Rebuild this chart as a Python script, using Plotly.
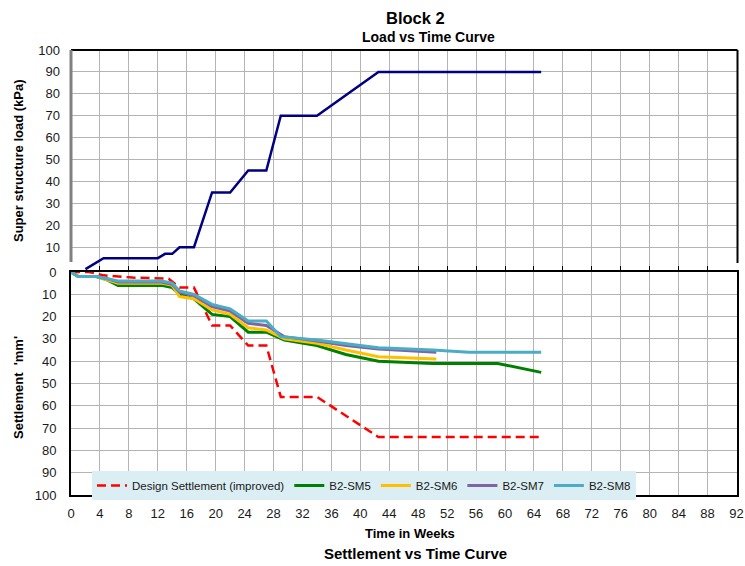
import plotly.graph_objects as go

# ---------------- data ----------------
load_weeks = [2, 4.5, 12, 13, 14, 15, 17, 19.5, 22, 24.5, 27, 29, 34, 42.5, 65]
load_kpa = [0, 5, 5, 7, 7, 10, 10, 35, 35, 45, 45, 70, 70, 90, 90]

design_weeks = [0, 2.5, 4.5, 8.5, 13.5, 15, 17, 19.5, 22, 24.5, 27, 29, 34, 42.5, 65]
design_sett = [0, 0, 1.5, 2.5, 3, 7, 7, 24, 24, 33, 33, 56, 56, 74, 74]

sm5_weeks = [0, 1, 3.5, 5, 6.5, 12.5, 14, 15, 17, 19.5, 22, 24.5, 27, 29.5, 34, 38, 42.5, 50, 59, 65]
sm5_sett = [0, 2, 2, 3.5, 6, 6, 7, 10, 12, 19, 20, 27, 27, 30.5, 33, 37, 40, 41, 41, 45]

sm6_weeks = [0, 1, 3.5, 5, 6.5, 12.5, 14, 15, 17, 19.5, 22, 24.5, 27, 29.5, 34, 38, 42.5, 50.5]
sm6_sett = [0, 2, 2, 3.5, 5, 5, 6, 11, 12, 17, 19, 25, 26, 30, 32, 35, 38, 39]

sm7_weeks = [0, 1, 3.5, 5, 6.5, 12.5, 14, 15, 17, 19.5, 22, 24.5, 27, 29.5, 34, 38, 42.5, 50.5]
sm7_sett = [0, 2, 2, 3, 4.5, 4.5, 5.5, 9, 10.5, 15.5, 17.5, 23, 24, 29, 31, 33, 34.5, 36]

sm8_weeks = [0, 1, 3.5, 5, 6.5, 12.5, 14, 15, 17, 19.5, 22, 24.5, 27, 29, 34, 40, 42.5, 50, 55, 65]
sm8_sett = [0, 2, 2, 3, 4, 4, 5, 8.5, 10, 14.5, 16.5, 22, 22, 29, 30.5, 33, 34, 35, 36, 36]

x_ticks = list(range(0, 93, 4))
load_ticks = list(range(10, 101, 10))
sett_ticks = list(range(0, 101, 10))

# ---------------- figure ----------------
W, H = 745, 566
FONT = "Liberation Sans, Arial, sans-serif"
GRID = "#b4b4b4"


def px(x):
    return x / W


def py(y):
    return (H - y) / H


fig = go.Figure()

fig.add_trace(go.Scatter(x=load_weeks, y=load_kpa, mode="lines",
                         line=dict(color="#000080", width=2.5),
                         xaxis="x", yaxis="y", showlegend=False))

series = [
    ("Design Settlement (improved)", design_weeks, design_sett, "#ff0000", "9px,5px", 2.5),
    ("B2-SM5", sm5_weeks, sm5_sett, "#008000", "solid", 3),
    ("B2-SM6", sm6_weeks, sm6_sett, "#ffc000", "solid", 3),
    ("B2-SM7", sm7_weeks, sm7_sett, "#8064a2", "solid", 3),
    ("B2-SM8", sm8_weeks, sm8_sett, "#4bacc6", "solid", 3),
]
for name, xs, ys, col, dash, w in series:
    fig.add_trace(go.Scatter(x=xs, y=ys, mode="lines", name=name,
                             line=dict(color=col, width=w, dash=dash),
                             xaxis="x2", yaxis="y2"))

x_dom = [px(71), px(736.5)]
tick_font = dict(family=FONT, size=13, color="#1a1a1a")

fig.update_layout(
    width=W, height=H,
    margin=dict(l=0, r=0, t=0, b=0),
    paper_bgcolor="white", plot_bgcolor="white",
    font=dict(family=FONT, color="#000"),
    xaxis=dict(domain=x_dom, range=[0, 92], tickvals=x_ticks, showticklabels=False,
               showgrid=True, gridcolor=GRID, gridwidth=1, zeroline=False,
               ticks="inside", ticklen=6, tickcolor="#000", tickwidth=1,
               showline=False, anchor="y", automargin=False),
    yaxis=dict(domain=[py(272), py(50)], range=[-1.3, 100], tickvals=load_ticks,
               showgrid=True, gridcolor=GRID, gridwidth=1, zeroline=False,
               showline=False, tickfont=tick_font, ticks="", ticklabelstandoff=10,
               anchor="x", automargin=False),
    xaxis2=dict(domain=x_dom, range=[0, 92], tickvals=x_ticks, ticktext=[str(v) for v in x_ticks],
                showgrid=True, gridcolor=GRID, gridwidth=1, zeroline=False,
                showline=True, linecolor="#000", linewidth=2, mirror=True,
                ticks="", tickfont=tick_font, ticklabelstandoff=5,
                anchor="y2", automargin=False),
    yaxis2=dict(domain=[py(495), py(272)], range=[100, 0], tickvals=sett_ticks,
                showgrid=True, gridcolor=GRID, gridwidth=1, zeroline=False,
                showline=True, linecolor="#000", linewidth=2, mirror=True,
                ticks="", tickfont=tick_font, ticklabelstandoff=10,
                anchor="x2", automargin=False),
    legend=dict(orientation="h", x=px(92), y=py(471), xanchor="left", yanchor="top",
                bgcolor="#daeef3", font=dict(family=FONT, size=11.5, color="#1a1a1a"),
                itemwidth=30, tracegroupgap=0, borderwidth=0),
    shapes=[
        dict(type="line", xref="paper", yref="paper", x0=px(71), x1=px(737.5), y0=py(50), y1=py(50),
             line=dict(color="#000", width=2)),
        dict(type="line", xref="paper", yref="paper", x0=px(737.5), x1=px(737.5), y0=py(50), y1=py(263),
             line=dict(color="#000", width=2)),
        dict(type="line", xref="paper", yref="paper", x0=px(71), x1=px(71), y0=py(50), y1=py(262),
             line=dict(color="#808080", width=3)),
    ],
    annotations=[
        dict(text="<b>Block 2</b>", x=px(416), y=py(18), xref="paper", yref="paper",
             showarrow=False, font=dict(size=16.5, family=FONT, color="#000"),
             xanchor="center", yanchor="middle"),
        dict(text="<b>Load vs Time Curve</b>", x=px(428), y=py(37), xref="paper", yref="paper",
             showarrow=False, font=dict(size=14, family=FONT, color="#000"),
             xanchor="center", yanchor="middle"),
        dict(text="<b>Super structure load (kPa)</b>", x=px(18), y=py(161), xref="paper", yref="paper",
             showarrow=False, textangle=-90, font=dict(size=13, family=FONT, color="#000"),
             xanchor="center", yanchor="middle"),
        dict(text="<b>Settlement  'mm'</b>", x=px(18), y=py(388), xref="paper", yref="paper",
             showarrow=False, textangle=-90, font=dict(size=13, family=FONT, color="#000"),
             xanchor="center", yanchor="middle"),
        dict(text="<b>Time in Weeks</b>", x=px(410), y=py(533), xref="paper", yref="paper",
             showarrow=False, font=dict(size=13, family=FONT, color="#000"),
             xanchor="center", yanchor="middle"),
        dict(text="<b>Settlement vs Time Curve</b>", x=px(416), y=py(553), xref="paper", yref="paper",
             showarrow=False, font=dict(size=15, family=FONT, color="#000"),
             xanchor="center", yanchor="middle"),
    ],
)

fig.write_html("out.html", config={"displayModeBar": False},
               post_script="document.body.style.margin='0';")
